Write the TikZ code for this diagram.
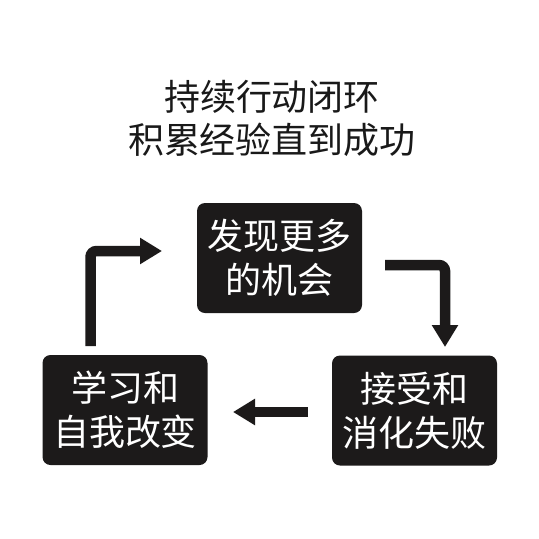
\documentclass[tikz,border=0pt]{standalone}
\usepackage{fontspec}
\newfontfamily\cjk{Noto Sans CJK SC}
\usetikzlibrary{arrows.meta}
\definecolor{boxfill}{HTML}{1C1A1A}
\tikzset{
  stagebox/.style={draw=none, fill=boxfill, rounded corners=8pt, minimum width=165pt, minimum height=110pt,
    inner sep=0pt, align=center, text=white, font=\cjk\fontsize{36}{44}\selectfont},
  titletext/.style={align=center, font=\cjk\fontsize{36}{43}\selectfont, text=black!90, inner sep=0pt},
  flow/.style={line width=10.5pt, color=boxfill, rounded corners=6pt, -{Triangle[width=25pt,length=22pt]}}
}
\begin{document}
\begin{tikzpicture}[x=1pt,y=-1pt]
\fill[white] (0,0) rectangle (539,539);
\useasboundingbox (0,0) rectangle (539,539);
\node[titletext] (title) at (272,118) {持续行动闭环\\积累经验直到成功};
\node[stagebox] (top) at (279.5,258) {发现更多\\的机会};
\node[stagebox] (right) at (414.5,410.5) {接受和\\消化失败};
\node[stagebox] (left) at (125,410) {学习和\\自我改变};
\coordinate (a1s) at (90.5,346);
\coordinate (a1e) at (162,251);
\coordinate (a2s) at (385,265);
\coordinate (a2e) at (445,347);
\coordinate (a3s) at (308,412);
\coordinate (a3e) at (233,412);
\draw[flow] (a1s) |- (a1e);
\draw[flow] (a2s) -| (a2e);
\draw[flow] (a3s) -- (a3e);
\end{tikzpicture}
\end{document}
